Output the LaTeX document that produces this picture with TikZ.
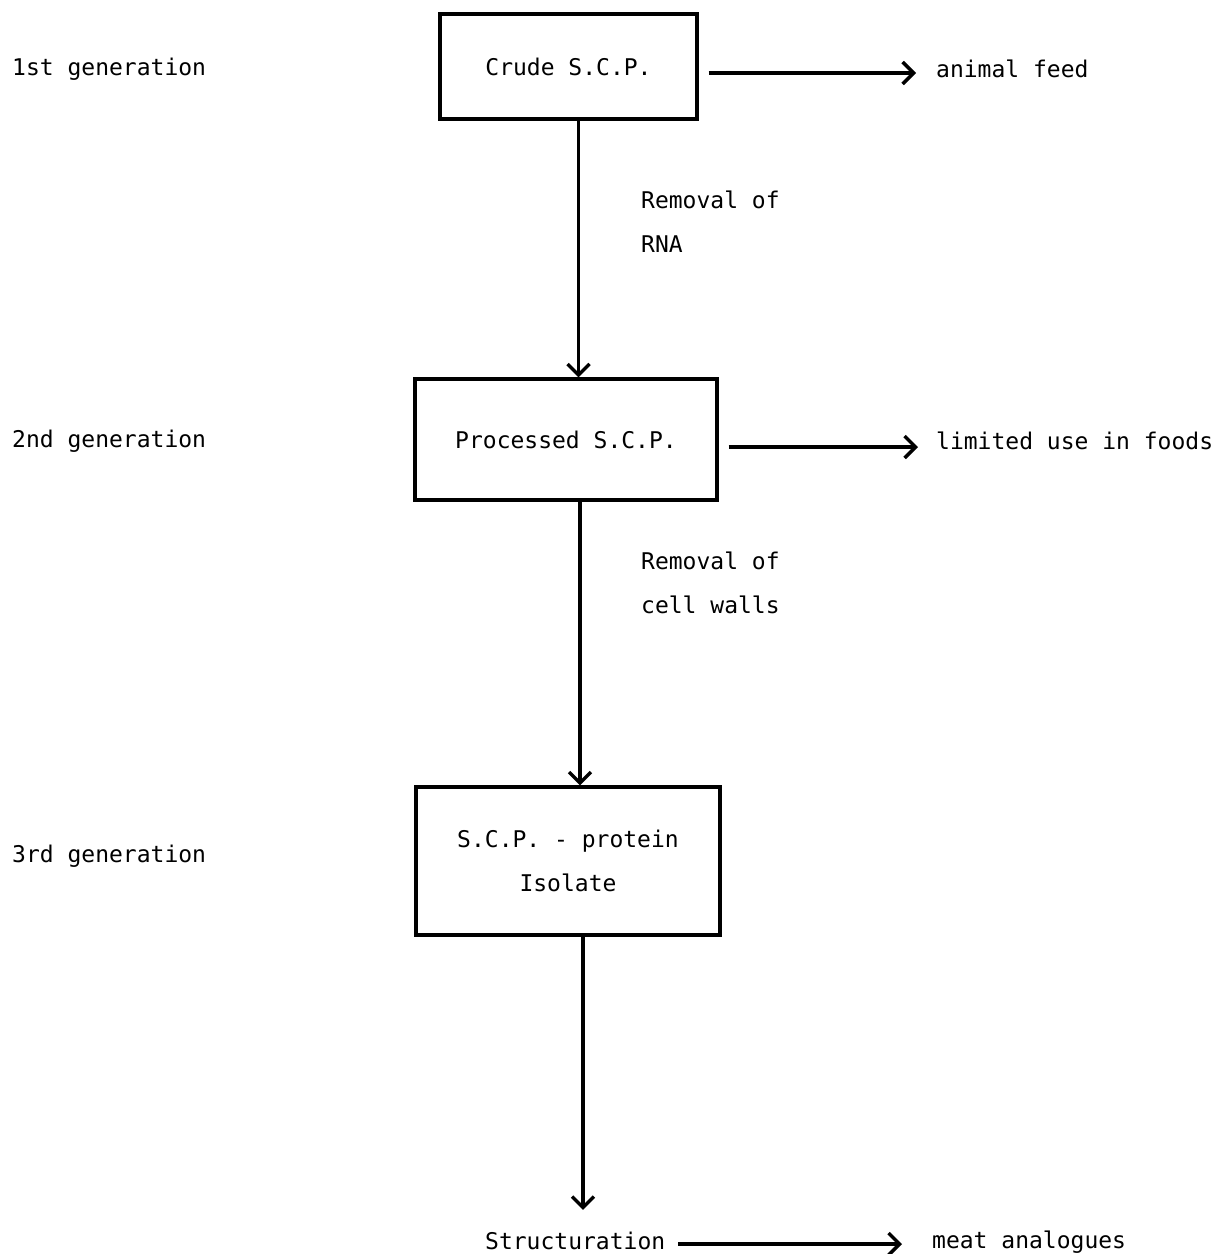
\documentclass[tikz,border=0pt]{standalone}
\usepackage{fontspec}
\setmonofont{DejaVu Sans Mono}
\usetikzlibrary{arrows.meta}
\begin{document}
\begin{tikzpicture}[x=1pt,y=-1pt,
  txt/.style={font=\ttfamily\fontsize{23}{44}\selectfont, inner sep=0pt},
  box/.style={draw, line width=3.2pt, txt, align=center},
  conn/.style={line width=3.4pt, -{Straight Barb[length=11pt,width=22pt,line width=3.4pt]}},
]
\useasboundingbox (0,0) rectangle (1221,1254);
% boxes
\node[box, minimum width=257pt, minimum height=105pt] (b1) at (568.5,66.5) {Crude S.C.P.};
\node[box, minimum width=302pt, minimum height=121pt] (b2) at (566,439.5) {Processed S.C.P.};
\node[box, minimum width=304pt, minimum height=148pt] (b3) at (568,861) {S.C.P. - protein\\Isolate};
% left labels
\node[txt, anchor=west] (g1) at (12,69) {1st generation};
\node[txt, anchor=west] (g2) at (12,441) {2nd generation};
\node[txt, anchor=west] (g3) at (12,856) {3rd generation};
% right outputs
\node[txt, anchor=west] (o1) at (936,69) {animal feed};
\node[txt, anchor=west] (o2) at (936,441) {limited use in foods};
\node[txt, anchor=west] (o3) at (932,1242) {meat analogues};
% process labels
\node[txt, anchor=north west, align=left] (p1) at (641,191) {Removal of\\RNA};
\node[txt, anchor=north west, align=left] (p2) at (641,552) {Removal of\\cell walls};
% structuration
\node[txt, anchor=west] (s) at (485,1241) {Structuration};
% helper coordinates
\coordinate (h1) at ([yshift=-4pt]o1.west);
\coordinate (h2) at ([yshift=-6pt]o2.west);
\coordinate (h3) at ([yshift=-3pt]s.east);
\coordinate (v1) at ([xshift=10pt]b1.south);
\coordinate (v2) at ([xshift=14pt]b2.south);
\coordinate (v3) at ([xshift=15pt]b3.south);
% connectors
\draw[conn, shorten <=10pt, shorten >=20pt] (h1 -| b1.east) -- (h1);
\draw[conn, shorten <=10pt, shorten >=18pt] (h2 -| b2.east) -- (h2);
\draw[conn, shorten <=13pt, shorten >=30pt] (h3) -- (h3 -| o3.west);
\draw[conn] (v1) -- (v1 |- b2.north);
\draw[conn] (v2) -- (v2 |- b3.north);
\draw[conn, shorten >=22pt] (v3) -- (v3 |- s.north);
\end{tikzpicture}
\end{document}
